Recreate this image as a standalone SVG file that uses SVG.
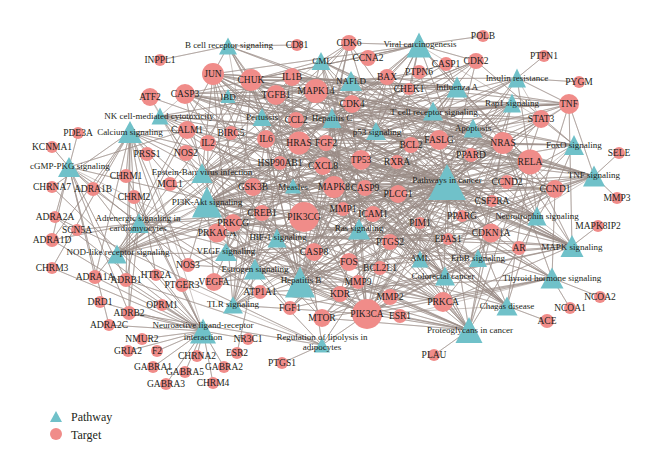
<svg xmlns="http://www.w3.org/2000/svg" width="660" height="472" viewBox="0 0 660 472">
<style>
.e path{fill:none;stroke:#9a8c87;stroke-width:0.6;stroke-opacity:0.85;stroke-linejoin:round}
.tg circle{fill:#f08c89}
.pw polygon{fill:#70c1c9}
text{font-family:"Liberation Serif","Times New Roman",serif;font-size:9px;fill:#231f20;text-anchor:middle}
.tg text{font-size:9.5px}
.lg text{font-size:12px;text-anchor:start}
</style>
<rect width="660" height="472" fill="#fff"/>
<g id="connectors" class="e">
<path d="M228 46L160 60 228 46 297 45 228 46 213 74 228 46 251 80 228 46 530 162 228 46 299 143 228 46 503 143 228 46 349 262 228 46 367 314 228 46 253 187"/>
<path d="M419 45L483 36 419 45 349 43 419 45 368 58 419 45 387 77 419 45 409 89 419 45 352 104 419 45 476 61 419 45 185 94 419 45 314 252 419 45 361 160 419 45 530 162 419 45 213 74 419 45 251 80 419 45 503 143 419 45 299 143 419 45 555 189 419 45 491 233 419 45 262 213 419 45 367 314 419 45 541 119"/>
<path d="M321 61L349 43 321 61 352 104 321 61 251 80 321 61 299 143 321 61 503 143 321 61 530 162 321 61 361 160 321 61 380 268 321 61 491 233 321 61 555 189 321 61 367 314 321 61 276 95"/>
<path d="M351 81L292 77 351 81 266 139 351 81 569 104 351 81 276 95 351 81 251 80 351 81 213 74 351 81 334 187 351 81 387 77 351 81 185 94 351 81 314 252 351 81 439 140 351 81 367 314 351 81 530 162 351 81 323 166"/>
<path d="M228 96L208 143 228 96 266 139 228 96 292 77 228 96 276 95 228 96 530 162 228 96 213 74 228 96 541 119 228 96 569 104"/>
<path d="M457 87L446 64 457 87 387 77 457 87 185 94 457 87 314 252 457 87 365 188 457 87 251 80 457 87 292 77 457 87 266 139 457 87 323 166 457 87 213 74 457 87 316 91 457 87 334 187 457 87 530 162 457 87 569 104 457 87 439 140 457 87 296 120 457 87 373 214 457 87 367 314"/>
<path d="M517 78L544 56 517 78 579 82 517 78 569 104 517 78 530 162 517 78 251 80 517 78 253 187 517 78 322 318 517 78 262 213 517 78 367 314 517 78 334 187 517 78 266 139 517 78 541 119"/>
<path d="M160 116L443 302 160 116 233 223 160 116 299 143 160 116 503 143 160 116 439 140 160 116 569 104 160 116 373 214 160 116 367 314 160 116 419 72 160 116 398 194 160 116 185 94"/>
<path d="M262 117L292 77 262 117 266 139 262 117 323 166 262 117 569 104 262 117 446 64 262 117 185 94 262 117 213 74 262 117 349 262 262 117 316 91 262 117 334 187 262 117 530 162 262 117 187 130"/>
<path d="M332 118L352 104 332 118 349 43 332 118 476 61 332 118 361 160 332 118 491 233 332 118 555 189 332 118 530 162 332 118 251 80 332 118 387 77 332 118 185 94 332 118 314 252 332 118 365 188 332 118 323 166 332 118 316 91 332 118 334 187 332 118 299 143 332 118 503 143 332 118 541 119 332 118 253 187 332 118 367 314 332 118 569 104 332 118 397 162"/>
<path d="M433 111L208 143 433 111 569 104 433 111 213 74 433 111 349 262 433 111 503 143 433 111 299 143 433 111 530 162 433 111 251 80 433 111 419 72 433 111 253 187 433 111 316 91 433 111 367 314 433 111 398 194"/>
<path d="M512 103L290 308 512 103 326 143 512 103 340 294 512 103 214 282 512 103 299 143 512 103 503 143 512 103 443 302 512 103 233 223 512 103 367 314 512 103 316 91 512 103 398 194 512 103 187 130"/>
<path d="M130 132L187 130 130 132 95 277 130 132 93 189 130 132 52 240 130 132 126 280 130 132 129 313 130 132 126 176 130 132 134 197 130 132 52 268 130 132 52 187 130 132 156 275 130 132 182 285 130 132 186 153 130 132 188 265 130 132 217 233 130 132 443 302 130 132 233 223 130 132 398 194 130 132 147 154"/>
<path d="M376 131L361 160 376 131 352 104 376 131 349 43 376 131 476 61 376 131 409 89 376 131 387 77 376 131 185 94 376 131 314 252 376 131 365 188 376 131 555 189 376 131 507 182 376 131 491 233"/>
<path d="M473 128L387 77 473 128 411 145 473 128 380 268 473 128 185 94 473 128 314 252 473 128 365 188 473 128 439 140 473 128 569 104 473 128 530 162 473 128 251 80 473 128 213 74 473 128 349 262 473 128 361 160 473 128 170 184 473 128 503 143 473 128 299 143 473 128 367 314"/>
<path d="M574 145L276 95 574 145 266 139 574 145 541 119 574 145 555 189 574 145 507 182 574 145 491 233 574 145 476 61 574 145 299 143 574 145 503 143 574 145 316 91 574 145 334 187 574 145 367 314"/>
<path d="M69 167L78 133 69 167 52 147 69 167 95 277 69 167 93 189 69 167 52 240 69 167 55 217 69 167 109 325 69 167 126 280 69 167 129 313 69 167 260 292 69 167 187 130 69 167 262 213 69 167 188 265 69 167 367 314"/>
<path d="M202 173L387 77 202 173 411 145 202 173 185 94 202 173 314 252 202 173 365 188 202 173 555 189 202 173 476 61 202 173 352 104 202 173 349 43 202 173 491 233 202 173 251 80 202 173 213 74 202 173 316 91 202 173 334 187 202 173 530 162 202 173 361 160 202 173 373 214 202 173 541 119 202 173 367 314"/>
<path d="M447 182L387 77 447 182 411 145 447 182 380 268 447 182 185 94 447 182 314 252 447 182 365 188 447 182 555 189 447 182 352 104 447 182 349 43 447 182 476 61 447 182 491 233 447 182 251 80 447 182 323 166 447 182 439 140 447 182 290 308 447 182 326 143 447 182 349 262 447 182 253 187 447 182 299 143 447 182 503 143 447 182 266 139 447 182 213 74 447 182 334 187 447 182 343 209 447 182 390 297 447 182 358 282 447 182 322 318 447 182 367 314 447 182 471 155 447 182 462 216 447 182 443 302 447 182 233 223 447 182 390 242 447 182 530 162 447 182 397 162 447 182 541 119 447 182 276 95 447 182 361 160 447 182 214 282 447 182 448 239 447 182 519 248 447 182 398 194 447 182 492 201 447 182 208 143 447 182 231 133 447 182 280 163 447 182 217 233 447 182 187 130"/>
<path d="M293 186L292 77 293 186 266 139 293 186 208 143 293 186 555 189 293 186 352 104 293 186 349 43 293 186 251 80 293 186 253 187 293 186 280 163 293 186 530 162 293 186 361 160 293 186 439 140 293 186 367 314 293 186 541 119"/>
<path d="M594 176L619 153 594 176 617 198 594 176 358 282 594 176 569 104 594 176 530 162 594 176 251 80 594 176 292 77 594 176 266 139 594 176 296 120 594 176 373 214 594 176 185 94 594 176 314 252 594 176 213 74 594 176 349 262 594 176 262 213 594 176 316 91 594 176 334 187 594 176 390 242 594 176 367 314"/>
<path d="M207 202L476 61 207 202 352 104 207 202 349 43 207 202 555 189 207 202 507 182 207 202 491 233 207 202 411 145 207 202 380 268 207 202 170 184 207 202 253 187 207 202 280 163 207 202 208 143 207 202 266 139 207 202 290 308 207 202 326 143 207 202 340 294 207 202 214 282 207 202 503 143 207 202 299 143 207 202 322 318 207 202 367 314 207 202 304 217 207 202 262 213 207 202 361 160 207 202 530 162 207 202 251 80 207 202 443 302 207 202 492 201 207 202 365 188 207 202 188 265 207 202 150 97"/>
<path d="M537 216L187 130 537 216 213 74 537 216 316 91 537 216 334 187 537 216 299 143 537 216 503 143 537 216 367 314 537 216 398 194 537 216 530 162 537 216 361 160 537 216 387 77 537 216 411 145 537 216 253 187"/>
<path d="M139 223L95 277 139 223 93 189 139 223 52 240 139 223 126 280 139 223 129 313 139 223 260 292 139 223 187 130 139 223 262 213 139 223 217 233 139 223 443 302 139 223 77 230 139 223 316 91 139 223 304 217 139 223 134 197 139 223 411 145"/>
<path d="M359 229L290 308 359 229 326 143 359 229 340 294 359 229 214 282 359 229 299 143 359 229 503 143 359 229 367 314 359 229 398 194 359 229 443 302 359 229 233 223 359 229 530 162 359 229 251 80 359 229 334 187 359 229 187 130 359 229 217 233 359 229 380 268"/>
<path d="M277 238L448 239 277 238 214 282 277 238 541 119 277 238 530 162 277 238 322 318 277 238 367 314 277 238 266 139 277 238 491 233 277 238 411 145 277 238 186 153 277 238 188 265 277 238 443 302 277 238 233 223"/>
<path d="M117 254L446 64 117 254 314 252 117 254 292 77 117 254 266 139 117 254 296 120 117 254 323 166 117 254 569 104 117 254 530 162 117 254 251 80 117 254 316 91 117 254 334 187 117 254 213 74 117 254 411 145 117 254 280 163"/>
<path d="M226 252L214 282 226 252 340 294 226 252 299 143 226 252 503 143 226 252 398 194 226 252 443 302 226 252 233 223 226 252 367 314 226 252 316 91 226 252 390 242 226 252 365 188 226 252 188 265"/>
<path d="M572 246L598 226 572 246 316 91 572 246 334 187 572 246 213 74 572 246 349 262 572 246 150 97 572 246 361 160 572 246 569 104 572 246 292 77 572 246 185 94 572 246 530 162 572 246 251 80 572 246 299 143 572 246 503 143 572 246 290 308 572 246 326 143 572 246 340 294 572 246 214 282 572 246 443 302 572 246 233 223 572 246 217 233 572 246 276 95 572 246 439 140"/>
<path d="M478 258L299 143 478 258 503 143 478 258 213 74 478 258 334 187 478 258 367 314 478 258 322 318 478 258 398 194 478 258 443 302 478 258 233 223 478 258 491 233 478 258 253 187"/>
<path d="M420 259L420 223 420 259 555 189 420 259 530 162 420 259 251 80 420 259 299 143 420 259 503 143 420 259 367 314 420 259 322 318 420 259 541 119 420 259 471 155 420 259 492 201"/>
<path d="M255 269L400 316 255 269 237 353 255 269 349 262 255 269 213 74 255 269 262 213 255 269 217 233 255 269 280 163 255 269 299 143 255 269 503 143 255 269 367 314 255 269 390 297 255 269 358 282 255 269 187 130 255 269 188 265 255 269 398 194 255 269 150 97"/>
<path d="M445 276L387 77 445 276 411 145 445 276 185 94 445 276 365 188 445 276 555 189 445 276 213 74 445 276 334 187 445 276 367 314 445 276 361 160 445 276 276 95 445 276 253 187 445 276 299 143 445 276 503 143"/>
<path d="M552 278L570 308 552 278 600 297 552 278 397 162 552 278 260 292 552 278 555 189 552 278 253 187 552 278 299 143 552 278 503 143 552 278 322 318 552 278 367 314 552 278 443 302 552 278 398 194 552 278 361 160 552 278 400 316"/>
<path d="M300 282L387 77 300 282 411 145 300 282 185 94 300 282 314 252 300 282 365 188 300 282 555 189 300 282 476 61 300 282 352 104 300 282 349 43 300 282 491 233 300 282 251 80 300 282 262 213 300 282 439 140 300 282 349 262 300 282 213 74 300 282 299 143 300 282 503 143 300 282 266 139 300 282 334 187 300 282 358 282 300 282 367 314 300 282 443 302 300 282 233 223 300 282 530 162 300 282 541 119 300 282 276 95 300 282 569 104 300 282 361 160"/>
<path d="M507 306L547 321 507 306 296 120 507 306 323 166 507 306 292 77 507 306 208 143 507 306 266 139 507 306 569 104 507 306 276 95 507 306 439 140 507 306 213 74 507 306 349 262 507 306 316 91 507 306 334 187 507 306 530 162 507 306 251 80 507 306 367 314"/>
<path d="M233 305L314 252 233 305 251 80 233 305 349 262 233 305 292 77 233 305 266 139 233 305 323 166 233 305 213 74 233 305 316 91 233 305 334 187 233 305 530 162 233 305 367 314 233 305 569 104"/>
<path d="M203 331L100 302 203 331 129 313 203 331 109 325 203 331 142 339 203 331 128 351 203 331 157 351 203 331 197 356 203 331 153 367 203 331 185 372 203 331 224 367 203 331 166 384 203 331 213 383 203 331 248 339 203 331 162 305 203 331 156 275 203 331 182 285 203 331 95 277 203 331 93 189 203 331 52 240 203 331 55 217 203 331 126 280 203 331 126 176 203 331 134 197 203 331 52 268 203 331 52 187 203 331 147 154"/>
<path d="M469 330L434 355 469 330 400 316 469 330 390 297 469 330 358 282 469 330 340 294 469 330 214 282 469 330 326 143 469 330 299 143 469 330 503 143 469 330 367 314 469 330 322 318 469 330 443 302 469 330 233 223 469 330 217 233 469 330 541 119 469 330 361 160 469 330 491 233 469 330 555 189 469 330 276 95 469 330 398 194 469 330 185 94 469 330 439 140 469 330 316 91"/>
<path d="M322 345L282 363 322 345 390 242 322 345 217 233 322 345 367 314 322 345 304 217 322 345 126 280 322 345 129 313 322 345 55 217 322 345 182 285"/>
</g>
<g id="targets" class="tg">
<g id="t-INPPL1"><circle cx="160" cy="60" r="6"/><text x="160" y="63">INPPL1</text></g>
<g id="t-JUN"><circle cx="213" cy="74" r="11"/><text x="213" y="77">JUN</text></g>
<g id="t-CASP3"><circle cx="185" cy="94" r="10"/><text x="185" y="97">CASP3</text></g>
<g id="t-ATF2"><circle cx="150" cy="97" r="9"/><text x="150" y="100">ATF2</text></g>
<g id="t-CALM1"><circle cx="187" cy="130" r="9"/><text x="187" y="133">CALM1</text></g>
<g id="t-PDE3A"><circle cx="78" cy="133" r="6"/><text x="78" y="136">PDE3A</text></g>
<g id="t-KCNMA1"><circle cx="52" cy="147" r="6"/><text x="52" y="150">KCNMA1</text></g>
<g id="t-IL2"><circle cx="208" cy="143" r="8"/><text x="208" y="146">IL2</text></g>
<g id="t-NOS2"><circle cx="186" cy="153" r="8"/><text x="186" y="156">NOS2</text></g>
<g id="t-PRSS1"><circle cx="147" cy="154" r="7"/><text x="147" y="157">PRSS1</text></g>
<g id="t-BIRC5"><circle cx="231" cy="133" r="7"/><text x="231" y="136">BIRC5</text></g>
<g id="t-CD81"><circle cx="297" cy="45" r="6"/><text x="297" y="48">CD81</text></g>
<g id="t-CDK6"><circle cx="349" cy="43" r="8"/><text x="349" y="46">CDK6</text></g>
<g id="t-CCNA2"><circle cx="368" cy="58" r="8"/><text x="368" y="61">CCNA2</text></g>
<g id="t-CHUK"><circle cx="251" cy="80" r="11"/><text x="251" y="83">CHUK</text></g>
<g id="t-IL1B"><circle cx="292" cy="77" r="9"/><text x="292" y="80">IL1B</text></g>
<g id="t-BAX"><circle cx="387" cy="77" r="8"/><text x="387" y="80">BAX</text></g>
<g id="t-PTPN6"><circle cx="419" cy="72" r="7"/><text x="419" y="75">PTPN6</text></g>
<g id="t-CHEK1"><circle cx="409" cy="89" r="6"/><text x="409" y="92">CHEK1</text></g>
<g id="t-MAPK14"><circle cx="316" cy="91" r="12"/><text x="316" y="94">MAPK14</text></g>
<g id="t-TGFB1"><circle cx="276" cy="95" r="10"/><text x="276" y="98">TGFB1</text></g>
<g id="t-CDK4"><circle cx="352" cy="104" r="9"/><text x="352" y="107">CDK4</text></g>
<g id="t-CCL2"><circle cx="296" cy="120" r="8"/><text x="296" y="123">CCL2</text></g>
<g id="t-IL6"><circle cx="266" cy="139" r="9"/><text x="266" y="142">IL6</text></g>
<g id="t-HRAS"><circle cx="299" cy="143" r="11.5"/><text x="299" y="146">HRAS</text></g>
<g id="t-FGF2"><circle cx="326" cy="143" r="8"/><text x="326" y="146">FGF2</text></g>
<g id="t-BCL2"><circle cx="411" cy="145" r="8"/><text x="411" y="148">BCL2</text></g>
<g id="t-FASLG"><circle cx="439" cy="140" r="10"/><text x="439" y="143">FASLG</text></g>
<g id="t-TP53"><circle cx="361" cy="160" r="10"/><text x="361" y="163">TP53</text></g>
<g id="t-CXCL8"><circle cx="323" cy="166" r="9"/><text x="323" y="169">CXCL8</text></g>
<g id="t-RXRA"><circle cx="397" cy="162" r="7"/><text x="397" y="165">RXRA</text></g>
<g id="t-MAPK8"><circle cx="334" cy="187" r="11"/><text x="334" y="190">MAPK8</text></g>
<g id="t-CASP9"><circle cx="365" cy="188" r="8"/><text x="365" y="191">CASP9</text></g>
<g id="t-PLCG1"><circle cx="398" cy="194" r="9"/><text x="398" y="197">PLCG1</text></g>
<g id="t-PPARD"><circle cx="471" cy="155" r="7"/><text x="471" y="158">PPARD</text></g>
<g id="t-CASP1"><circle cx="446" cy="64" r="7"/><text x="446" y="67">CASP1</text></g>
<g id="t-CDK2"><circle cx="476" cy="61" r="8"/><text x="476" y="64">CDK2</text></g>
<g id="t-POLB"><circle cx="483" cy="36" r="6"/><text x="483" y="39">POLB</text></g>
<g id="t-PTPN1"><circle cx="544" cy="56" r="6"/><text x="544" y="59">PTPN1</text></g>
<g id="t-PYGM"><circle cx="579" cy="82" r="6"/><text x="579" y="85">PYGM</text></g>
<g id="t-TNF"><circle cx="569" cy="104" r="10"/><text x="569" y="107">TNF</text></g>
<g id="t-STAT3"><circle cx="541" cy="119" r="9"/><text x="541" y="122">STAT3</text></g>
<g id="t-NRAS"><circle cx="503" cy="143" r="11"/><text x="503" y="146">NRAS</text></g>
<g id="t-SELE"><circle cx="619" cy="153" r="6"/><text x="619" y="156">SELE</text></g>
<g id="t-RELA"><circle cx="530" cy="162" r="12.5"/><text x="530" y="165">RELA</text></g>
<g id="t-CCND2"><circle cx="507" cy="182" r="7"/><text x="507" y="185">CCND2</text></g>
<g id="t-CCND1"><circle cx="555" cy="189" r="9"/><text x="555" y="192">CCND1</text></g>
<g id="t-MMP3"><circle cx="617" cy="198" r="6"/><text x="617" y="201">MMP3</text></g>
<g id="t-CSF2RA"><circle cx="492" cy="201" r="6"/><text x="492" y="204">CSF2RA</text></g>
<g id="t-PPARG"><circle cx="462" cy="216" r="6"/><text x="462" y="219">PPARG</text></g>
<g id="t-MAPK8IP2"><circle cx="598" cy="226" r="6"/><text x="598" y="229">MAPK8IP2</text></g>
<g id="t-CDKN1A"><circle cx="491" cy="233" r="9.5"/><text x="491" y="236">CDKN1A</text></g>
<g id="t-EPAS1"><circle cx="448" cy="239" r="6"/><text x="448" y="242">EPAS1</text></g>
<g id="t-AR"><circle cx="519" cy="248" r="7"/><text x="519" y="251">AR</text></g>
<g id="t-PRKCA"><circle cx="443" cy="302" r="10"/><text x="443" y="305">PRKCA</text></g>
<g id="t-NCOA2"><circle cx="600" cy="297" r="6"/><text x="600" y="300">NCOA2</text></g>
<g id="t-NCOA1"><circle cx="570" cy="308" r="6"/><text x="570" y="311">NCOA1</text></g>
<g id="t-ACE"><circle cx="547" cy="321" r="7"/><text x="547" y="324">ACE</text></g>
<g id="t-PLAU"><circle cx="434" cy="355" r="6"/><text x="434" y="358">PLAU</text></g>
<g id="t-CHRNA7"><circle cx="52" cy="187" r="6"/><text x="52" y="190">CHRNA7</text></g>
<g id="t-ADRA1B"><circle cx="93" cy="189" r="7"/><text x="93" y="192">ADRA1B</text></g>
<g id="t-CHRM1"><circle cx="126" cy="176" r="7"/><text x="126" y="179">CHRM1</text></g>
<g id="t-CHRM2"><circle cx="134" cy="197" r="7"/><text x="134" y="200">CHRM2</text></g>
<g id="t-MCL1"><circle cx="170" cy="184" r="7"/><text x="170" y="187">MCL1</text></g>
<g id="t-ADRA2A"><circle cx="55" cy="217" r="6"/><text x="55" y="220">ADRA2A</text></g>
<g id="t-SCN5A"><circle cx="77" cy="230" r="6"/><text x="77" y="233">SCN5A</text></g>
<g id="t-PRKACA"><circle cx="217" cy="233" r="9.5"/><text x="217" y="236">PRKACA</text></g>
<g id="t-ADRA1D"><circle cx="52" cy="240" r="7"/><text x="52" y="243">ADRA1D</text></g>
<g id="t-NOS3"><circle cx="188" cy="265" r="7"/><text x="188" y="268">NOS3</text></g>
<g id="t-CHRM3"><circle cx="52" cy="268" r="6"/><text x="52" y="271">CHRM3</text></g>
<g id="t-ADRA1A"><circle cx="95" cy="277" r="7"/><text x="95" y="280">ADRA1A</text></g>
<g id="t-ADRB1"><circle cx="126" cy="280" r="7"/><text x="126" y="283">ADRB1</text></g>
<g id="t-HTR2A"><circle cx="156" cy="275" r="6"/><text x="156" y="278">HTR2A</text></g>
<g id="t-PTGER3"><circle cx="182" cy="285" r="7"/><text x="182" y="288">PTGER3</text></g>
<g id="t-VEGFA"><circle cx="214" cy="282" r="9"/><text x="214" y="285">VEGFA</text></g>
<g id="t-DRD1"><circle cx="100" cy="302" r="6"/><text x="100" y="305">DRD1</text></g>
<g id="t-OPRM1"><circle cx="162" cy="305" r="6"/><text x="162" y="308">OPRM1</text></g>
<g id="t-ADRB2"><circle cx="129" cy="313" r="7"/><text x="129" y="316">ADRB2</text></g>
<g id="t-ADRA2C"><circle cx="109" cy="325" r="6"/><text x="109" y="328">ADRA2C</text></g>
<g id="t-NMUR2"><circle cx="142" cy="339" r="6"/><text x="142" y="342">NMUR2</text></g>
<g id="t-GRIA2"><circle cx="128" cy="351" r="6"/><text x="128" y="354">GRIA2</text></g>
<g id="t-F2"><circle cx="157" cy="351" r="6"/><text x="157" y="354">F2</text></g>
<g id="t-CHRNA2"><circle cx="197" cy="356" r="6"/><text x="197" y="359">CHRNA2</text></g>
<g id="t-GABRA1"><circle cx="153" cy="367" r="6"/><text x="153" y="370">GABRA1</text></g>
<g id="t-GABRA5"><circle cx="185" cy="372" r="6"/><text x="185" y="375">GABRA5</text></g>
<g id="t-GABRA2"><circle cx="224" cy="367" r="6"/><text x="224" y="370">GABRA2</text></g>
<g id="t-GABRA3"><circle cx="166" cy="384" r="6"/><text x="166" y="387">GABRA3</text></g>
<g id="t-CHRM4"><circle cx="213" cy="383" r="6"/><text x="213" y="386">CHRM4</text></g>
<g id="t-FGF1"><circle cx="290" cy="308" r="7"/><text x="290" y="311">FGF1</text></g>
<g id="t-MTOR"><circle cx="322" cy="318" r="9"/><text x="322" y="321">MTOR</text></g>
<g id="t-PIK3CA"><circle cx="367" cy="314" r="15"/><text x="367" y="317">PIK3CA</text></g>
<g id="t-ESR1"><circle cx="400" cy="316" r="7"/><text x="400" y="319">ESR1</text></g>
<g id="t-NR3C1"><circle cx="248" cy="339" r="6"/><text x="248" y="342">NR3C1</text></g>
<g id="t-ESR2"><circle cx="237" cy="353" r="6"/><text x="237" y="356">ESR2</text></g>
<g id="t-PTGS1"><circle cx="282" cy="363" r="6"/><text x="282" y="366">PTGS1</text></g>
<g id="t-HSP90AB1"><circle cx="280" cy="163" r="7"/><text x="280" y="166">HSP90AB1</text></g>
<g id="t-GSK3B"><circle cx="253" cy="187" r="9"/><text x="253" y="190">GSK3B</text></g>
<g id="t-CREB1"><circle cx="262" cy="213" r="8"/><text x="262" y="216">CREB1</text></g>
<g id="t-PIK3CG"><circle cx="304" cy="217" r="15"/><text x="304" y="220">PIK3CG</text></g>
<g id="t-MMP1"><circle cx="343" cy="209" r="7"/><text x="343" y="212">MMP1</text></g>
<g id="t-ICAM1"><circle cx="373" cy="214" r="8"/><text x="373" y="217">ICAM1</text></g>
<g id="t-PRKCG"><circle cx="233" cy="223" r="9"/><text x="233" y="226">PRKCG</text></g>
<g id="t-PIM1"><circle cx="420" cy="223" r="6"/><text x="420" y="226">PIM1</text></g>
<g id="t-PTGS2"><circle cx="390" cy="242" r="8"/><text x="390" y="245">PTGS2</text></g>
<g id="t-CASP8"><circle cx="314" cy="252" r="9"/><text x="314" y="255">CASP8</text></g>
<g id="t-FOS"><circle cx="349" cy="262" r="9"/><text x="349" y="265">FOS</text></g>
<g id="t-BCL2L1"><circle cx="380" cy="268" r="7"/><text x="380" y="271">BCL2L1</text></g>
<g id="t-MMP9"><circle cx="358" cy="282" r="7"/><text x="358" y="285">MMP9</text></g>
<g id="t-ATP1A1"><circle cx="260" cy="292" r="7"/><text x="260" y="295">ATP1A1</text></g>
<g id="t-KDR"><circle cx="340" cy="294" r="8"/><text x="340" y="297">KDR</text></g>
<g id="t-MMP2"><circle cx="390" cy="297" r="8"/><text x="390" y="300">MMP2</text></g>
</g>
<g id="pathways" class="pw">
<g id="p-bcell"><polygon points="228,37.5 219,54.5 237,54.5"/><text x="229" y="48">B cell receptor signaling</text></g>
<g id="p-viral"><polygon points="419,32.5 406.5,57.5 431.5,57.5"/><text x="420" y="47">Viral carcinogenesis</text></g>
<g id="p-cml"><polygon points="321,52 311.5,70 330.5,70"/><text x="322" y="64">CML</text></g>
<g id="p-nafld"><polygon points="351,71 340,91 362,91"/><text x="351" y="84">NAFLD</text></g>
<g id="p-ibd"><polygon points="228,89 220.5,103 235.5,103"/><text x="228" y="100">IBD</text></g>
<g id="p-flu"><polygon points="457,76.5 446.5,97.5 467.5,97.5"/><text x="457" y="90">Influenza A</text></g>
<g id="p-insulin"><polygon points="517,68.5 508,87.5 526,87.5"/><text x="517" y="81">Insulin resistance</text></g>
<g id="p-nk"><polygon points="160,107.5 151.5,124.5 168.5,124.5"/><text x="159" y="119">NK cell-mediated cytotoxicity</text></g>
<g id="p-pertussis"><polygon points="262,108 252.5,126 271.5,126"/><text x="262" y="120">Pertussis</text></g>
<g id="p-hepc"><polygon points="332,108 322.5,128 341.5,128"/><text x="332" y="121">Hepatitis C</text></g>
<g id="p-tcell"><polygon points="433,101.5 423,120.5 443,120.5"/><text x="434" y="115">T cell receptor signaling</text></g>
<g id="p-rap1"><polygon points="512,93.5 503,112.5 521,112.5"/><text x="512" y="106">Rap1 signaling</text></g>
<g id="p-calcium"><polygon points="130,121 118,143 142,143"/><text x="130" y="135">Calcium signaling</text></g>
<g id="p-p53"><polygon points="376,122 366,140 386,140"/><text x="377" y="135">p53 signaling</text></g>
<g id="p-apoptosis"><polygon points="473,118.5 463.5,137.5 482.5,137.5"/><text x="473" y="131">Apoptosis</text></g>
<g id="p-foxo"><polygon points="574,135 564,155 584,155"/><text x="574" y="148">FoxO signaling</text></g>
<g id="p-cgmp"><polygon points="69,157 58,177 80,177"/><text x="70" y="169">cGMP-PKG signaling</text></g>
<g id="p-ebv"><polygon points="202,163 191.5,183 212.5,183"/><text x="202" y="175">Epstein-Barr virus infection</text></g>
<g id="p-pic"><polygon points="447,164 428,200 466,200"/><text x="447" y="183">Pathways in cancer</text></g>
<g id="p-measles"><polygon points="293,178.5 285,193.5 301,193.5"/><text x="293" y="190">Measles</text></g>
<g id="p-tnfs"><polygon points="594,165.5 583,186.5 605,186.5"/><text x="594" y="178">TNF signaling</text></g>
<g id="p-pi3k"><polygon points="207,186.5 192,217.5 222,217.5"/><text x="207" y="205">PI3K-Akt signaling</text></g>
<g id="p-neurotrophin"><polygon points="537,206.5 527.5,225.5 546.5,225.5"/><text x="537" y="219">Neurotrophin signaling</text></g>
<g id="p-adrenergic"><polygon points="139,213 129.5,233 148.5,233"/><text x="138" y="221">Adrenergic signaling in</text><text x="138" y="231">cardiomyocytes</text></g>
<g id="p-ras"><polygon points="359,218.5 348,239.5 370,239.5"/><text x="359" y="231">Ras signaling</text></g>
<g id="p-hif1"><polygon points="277,228.5 267.5,247.5 286.5,247.5"/><text x="278" y="240">HIF-1 signaling</text></g>
<g id="p-nod"><polygon points="117,244.5 107.5,263.5 126.5,263.5"/><text x="118" y="255">NOD-like receptor signaling</text></g>
<g id="p-vegf"><polygon points="226,243 215,261 237,261"/><text x="226" y="254">VEGF signaling</text></g>
<g id="p-mapk"><polygon points="572,235 560.5,257 583.5,257"/><text x="572" y="250">MAPK signaling</text></g>
<g id="p-erbb"><polygon points="478,249 469,267 487,267"/><text x="478" y="261">ErbB signaling</text></g>
<g id="p-aml"><polygon points="420,250.5 411.5,267.5 428.5,267.5"/><text x="420" y="261">AML</text></g>
<g id="p-estrogen"><polygon points="255,258.5 244,279.5 266,279.5"/><text x="255" y="272">Estrogen signaling</text></g>
<g id="p-colorectal"><polygon points="445,266.5 435,285.5 455,285.5"/><text x="443" y="279">Colorectal cancer</text></g>
<g id="p-thyroid"><polygon points="552,267.5 540.5,288.5 563.5,288.5"/><text x="552" y="281">Thyroid hormone signaling</text></g>
<g id="p-hepb"><polygon points="300,266.5 285,297.5 315,297.5"/><text x="301" y="283">Hepatitis B</text></g>
<g id="p-chagas"><polygon points="507,296.5 496.5,315.5 517.5,315.5"/><text x="507" y="309">Chagas disease</text></g>
<g id="p-tlr"><polygon points="233,296.5 223,313.5 243,313.5"/><text x="233" y="307">TLR signaling</text></g>
<g id="p-neuro"><polygon points="203,318.5 190,343.5 216,343.5"/><text x="203" y="328">Neuroactive ligand-receptor</text><text x="203" y="340">interaction</text></g>
<g id="p-proteo"><polygon points="469,317 455.5,343 482.5,343"/><text x="470" y="333">Proteoglycans in cancer</text></g>
<g id="p-lipolysis"><polygon points="322,337.5 314,352.5 330,352.5"/><text x="322" y="340">Regulation of lipolysis in</text><text x="322" y="350">adipocytes</text></g>
</g>
<g id="legend" class="lg">
<polygon points="56,411 50,422 62,422" fill="#70c1c9"/>
<text x="71" y="421">Pathway</text>
<circle cx="56" cy="434" r="6" fill="#f08c89"/>
<text x="71" y="439">Target</text>
</g>
</svg>
